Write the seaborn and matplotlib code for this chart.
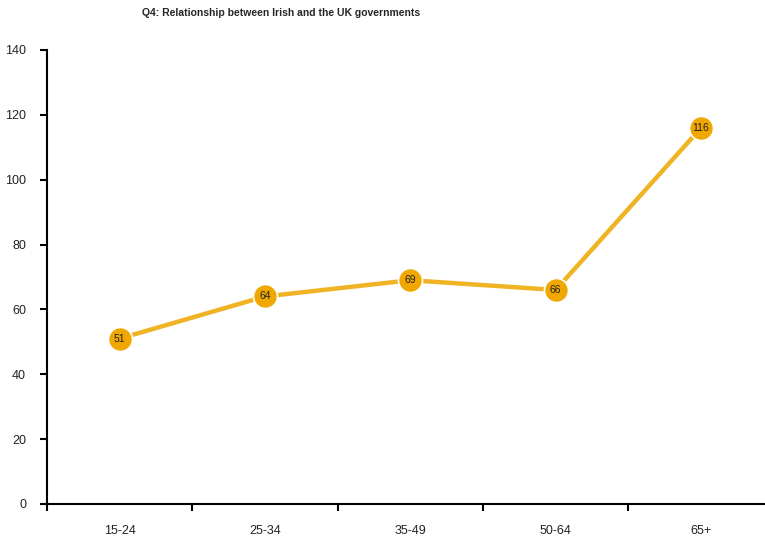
import numpy as np
import pandas as pd
import seaborn as sns
import matplotlib.pyplot as plt

age_groups = ["15-24", "25-34", "35-49", "50-64", "65+"]
values = [51, 64, 69, 66, 116]
y_ticks = [0, 20, 40, 60, 80, 100, 120, 140]

sns.set_theme(style="white")
plt.rcParams["font.family"] = ["Liberation Sans", "DejaVu Sans"]

df = pd.DataFrame({"age": age_groups, "value": values})
df["pos"] = np.arange(len(df))

fig = plt.figure(figsize=(7.65, 5.41), dpi=100)
ax = fig.add_axes([0.0614, 0.0684, 0.9386, 0.8392])

sns.lineplot(data=df, x="pos", y="value", color="#F0B323", linewidth=3.2, ax=ax, zorder=2)
sns.scatterplot(data=df, x="pos", y="value", color="#F0A800", s=300,
                edgecolor="white", linewidth=1.2, ax=ax, zorder=3)

# value labels inside the markers
for x, v in zip(df["pos"], df["value"]):
    ax.text(x, v, str(v), ha="center", va="center", fontsize=7.5, color="#222222", zorder=4)

ax.set_xlim(-0.5, 4.44)
ax.set_ylim(0, 140)
ax.set_yticks(y_ticks)
ax.set_xticks(df["pos"])
ax.set_xticklabels(age_groups)
ax.set_xticks(np.arange(-0.5, 4.5, 1), minor=True)
ax.tick_params(axis="x", which="major", length=0, pad=15, labelsize=9, colors="#222222")
ax.tick_params(axis="x", which="minor", length=5, width=1.5, direction="out", color="black", bottom=True)
ax.tick_params(axis="y", length=5, width=1.5, direction="out", left=True, pad=10,
               labelsize=9, colors="#222222")
ax.tick_params(axis="y", color="black")

for side in ["top", "right"]:
    ax.spines[side].set_visible(False)
for side in ["left", "bottom"]:
    ax.spines[side].set_color("black")
    ax.spines[side].set_linewidth(1.5)

ax.set_xlabel("")
ax.set_ylabel("")
fig.suptitle("Q4: Relationship between Irish and the UK governments",
             fontsize=7.5, fontweight="bold", y=0.985, x=0.367)

fig.savefig("out.png", dpi=100)
